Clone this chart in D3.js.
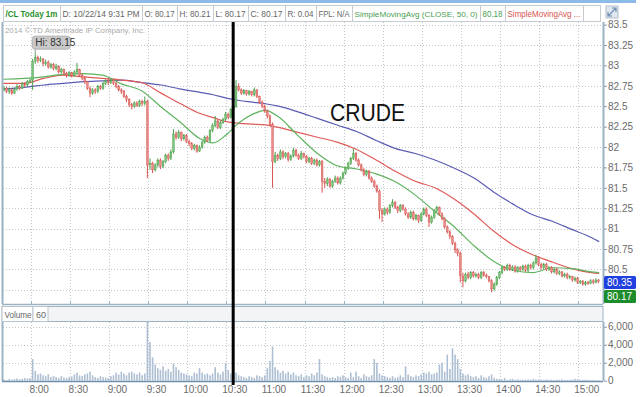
<!DOCTYPE html>
<html>
<head>
<meta charset="utf-8">
<script src="https://cdn.jsdelivr.net/npm/d3@7"></script>
<style>
  body { margin: 0; background: #fff; }
  text { font-family: "Liberation Sans", Arial, sans-serif; }
</style>
</head>
<body>
<script>
let width = 642;
let height = 397;

// 2-minute bars starting 7:39 (minutes after midnight)
let barStart = 459;
let barStep = 2;
let firstOpen = 82.70;

let closes = [
  82.72, 82.68, 82.70, 82.66, 82.71, 82.74, 82.72, 82.78, 82.76, 82.80,
  82.82, 83.05, 83.10, 83.06, 83.08, 83.02, 83.04, 82.98, 83.01, 82.96,
  82.99, 82.92, 82.95, 82.90, 82.88, 82.91, 82.87, 82.92, 82.95, 82.88,
  82.84, 82.80, 82.72, 82.66, 82.70, 82.68, 82.74, 82.72, 82.78, 82.81,
  82.79, 82.82, 82.78, 82.74, 82.70, 82.68, 82.62, 82.58, 82.52, 82.50,
  82.54, 82.51, 82.56, 82.53, 82.56, 81.78, 81.80, 81.72, 81.78, 81.84,
  81.76, 81.82, 81.90, 81.86, 81.94, 82.16, 82.12, 82.18, 82.10, 82.14,
  82.07, 82.04, 81.98, 82.02, 81.95, 82.00, 82.06, 82.12, 82.08, 82.20,
  82.26, 82.32, 82.24, 82.30, 82.34, 82.40, 82.36, 82.46, 82.50, 82.74,
  82.70, 82.66, 82.69, 82.65, 82.68, 82.64, 82.70, 82.62, 82.55, 82.50,
  82.44, 82.38, 82.28, 81.82, 81.90, 81.86, 81.94, 81.88, 81.92, 81.85,
  81.89, 81.96, 81.90, 81.86, 81.92, 81.88, 81.82, 81.86, 81.80, 81.84,
  81.78, 81.82, 81.58, 81.55, 81.60, 81.52, 81.58, 81.62, 81.56, 81.62,
  81.68, 81.74, 81.80, 81.86, 81.92, 81.84, 81.78, 81.72, 81.66, 81.70,
  81.62, 81.58, 81.52, 81.46, 81.22, 81.18, 81.24, 81.20, 81.28, 81.32,
  81.26, 81.22, 81.28, 81.24, 81.18, 81.14, 81.20, 81.12, 81.16, 81.10,
  81.18, 81.24, 81.16, 81.08, 81.14, 81.22, 81.26, 81.18, 81.12, 81.02,
  80.96, 80.90, 80.82, 80.74, 80.70, 80.42, 80.36, 80.44, 80.40, 80.46,
  80.42, 80.44, 80.40, 80.46, 80.43, 80.41, 80.36, 80.26, 80.32, 80.40,
  80.46, 80.52, 80.50, 80.55, 80.50, 80.53, 80.48, 80.52, 80.50, 80.54,
  80.49, 80.55, 80.52, 80.58, 80.64, 80.56, 80.52, 80.56, 80.50, 80.52,
  80.47, 80.50, 80.45, 80.47, 80.42, 80.44, 80.40, 80.41, 80.37, 80.39,
  80.34, 80.35, 80.32, 80.34, 80.33, 80.36, 80.34, 80.37, 80.35
];
let highs = [
  82.75, 82.74, 82.73, 82.72, 82.73, 82.77, 82.76, 82.80, 82.80, 82.82,
  82.84, 83.08, 83.15, 83.12, 83.11, 83.09, 83.07, 83.06, 83.03, 83.03,
  83.02, 83.00, 82.97, 82.96, 82.92, 82.93, 82.92, 82.94, 83.03, 82.96,
  82.90, 82.86, 82.81, 82.74, 82.72, 82.72, 82.76, 82.76, 82.80, 82.83,
  82.84, 82.84, 82.84, 82.80, 82.76, 82.72, 82.70, 82.64, 82.60, 82.54,
  82.56, 82.56, 82.58, 82.58, 82.62, 82.58, 81.86, 81.82, 81.80, 81.86,
  81.86, 81.84, 81.92, 81.92, 81.97, 82.22, 82.19, 82.21, 82.19, 82.16,
  82.16, 82.09, 82.06, 82.04, 82.03, 82.02, 82.08, 82.14, 82.14, 82.22,
  82.29, 82.38, 82.33, 82.32, 82.36, 82.43, 82.42, 82.48, 82.54, 82.82,
  82.78, 82.72, 82.71, 82.70, 82.70, 82.69, 82.73, 82.71, 82.63, 82.57,
  82.52, 82.46, 82.40, 82.30, 81.94, 81.92, 81.97, 81.96, 81.94, 81.94,
  81.91, 81.99, 81.98, 81.92, 81.95, 81.93, 81.90, 81.88, 81.88, 81.86,
  81.86, 81.84, 81.84, 81.62, 81.63, 81.62, 81.60, 81.65, 81.64, 81.64,
  81.70, 81.76, 81.82, 81.88, 81.98, 81.94, 81.86, 81.80, 81.74, 81.72,
  81.72, 81.64, 81.60, 81.54, 81.48, 81.25, 81.26, 81.26, 81.30, 81.36,
  81.34, 81.28, 81.30, 81.30, 81.26, 81.20, 81.22, 81.22, 81.18, 81.17,
  81.20, 81.26, 81.26, 81.18, 81.16, 81.24, 81.28, 81.27, 81.20, 81.14,
  81.04, 80.98, 80.92, 80.84, 80.76, 80.72, 80.46, 80.46, 80.47, 80.48,
  80.48, 80.46, 80.46, 80.48, 80.48, 80.45, 80.42, 80.38, 80.34, 80.42,
  80.48, 80.54, 80.54, 80.57, 80.57, 80.55, 80.55, 80.54, 80.54, 80.56,
  80.56, 80.57, 80.57, 80.60, 80.68, 80.66, 80.58, 80.58, 80.58, 80.54,
  80.54, 80.52, 80.52, 80.49, 80.48, 80.46, 80.46, 80.43, 80.42, 80.41,
  80.41, 80.37, 80.37, 80.36, 80.36, 80.38, 80.38, 80.39, 80.38
];
let lows = [
  82.68, 82.66, 82.65, 82.64, 82.65, 82.69, 82.70, 82.71, 82.73, 82.74,
  82.78, 82.70, 83.02, 83.03, 83.04, 82.99, 83.00, 82.96, 82.96, 82.94,
  82.94, 82.90, 82.90, 82.88, 82.85, 82.86, 82.85, 82.86, 82.90, 82.86,
  82.82, 82.77, 82.70, 82.61, 82.64, 82.65, 82.66, 82.70, 82.70, 82.76,
  82.76, 82.77, 82.76, 82.72, 82.68, 82.65, 82.60, 82.55, 82.49, 82.46,
  82.48, 82.49, 82.49, 82.50, 82.51, 81.62, 81.72, 81.68, 81.70, 81.75,
  81.73, 81.74, 81.80, 81.83, 81.84, 81.92, 82.09, 82.10, 82.07, 82.08,
  82.05, 82.01, 81.96, 81.96, 81.93, 81.94, 81.98, 82.04, 82.06, 82.06,
  82.18, 82.24, 82.22, 82.22, 82.28, 82.32, 82.34, 82.35, 82.44, 82.48,
  82.68, 82.64, 82.64, 82.63, 82.63, 82.62, 82.62, 82.60, 82.53, 82.48,
  82.42, 82.35, 82.25, 81.50, 81.80, 81.83, 81.84, 81.85, 81.86, 81.82,
  81.83, 81.87, 81.88, 81.84, 81.84, 81.86, 81.80, 81.80, 81.78, 81.78,
  81.76, 81.76, 81.44, 81.50, 81.52, 81.50, 81.50, 81.56, 81.54, 81.54,
  81.60, 81.66, 81.72, 81.78, 81.84, 81.82, 81.76, 81.70, 81.64, 81.64,
  81.60, 81.56, 81.50, 81.44, 81.12, 81.08, 81.16, 81.17, 81.18, 81.26,
  81.24, 81.19, 81.20, 81.22, 81.16, 81.12, 81.12, 81.10, 81.10, 81.07,
  81.08, 81.16, 81.14, 81.02, 81.06, 81.12, 81.20, 81.16, 81.10, 81.00,
  80.94, 80.87, 80.80, 80.70, 80.66, 80.34, 80.28, 80.34, 80.38, 80.38,
  80.40, 80.40, 80.38, 80.38, 80.41, 80.39, 80.34, 80.22, 80.24, 80.30,
  80.38, 80.44, 80.48, 80.48, 80.48, 80.48, 80.46, 80.46, 80.48, 80.48,
  80.47, 80.47, 80.50, 80.50, 80.56, 80.54, 80.50, 80.50, 80.48, 80.48,
  80.45, 80.45, 80.43, 80.43, 80.40, 80.40, 80.38, 80.38, 80.35, 80.35,
  80.32, 80.32, 80.30, 80.30, 80.31, 80.32, 80.32, 80.33, 80.33
];
let volumes = [
  150, 100, 200, 120, 180, 250, 150, 200, 300, 250,
  300, 2400, 1100, 700, 800, 600, 500, 700, 400, 500,
  400, 300, 500, 350, 300, 400, 450, 700, 900, 600,
  500, 700, 800, 1000, 600, 400, 300, 500, 400, 350,
  300, 500, 600, 900, 700, 1000, 800, 600, 900, 1000,
  800, 700, 900, 600, 800, 6600, 4300, 2600, 1800, 1400,
  1200, 1600, 1100, 1300, 1000, 1900, 1500, 1200, 900, 800,
  700, 600, 500, 900, 800, 1400, 900, 700, 800, 600,
  800, 1500, 900, 700, 1000, 2000, 1200, 800, 1100, 900,
  600, 500, 400, 300, 500, 400, 300, 600, 500, 400,
  600, 1400, 2200, 3800, 1500, 1200, 900, 1100, 800, 1000,
  700, 900, 600, 500, 700, 400, 600, 500, 800, 600,
  900, 2400, 700, 500, 400, 300, 400, 300, 500, 400,
  600, 400, 300, 900, 400, 1000, 500, 300, 700, 500,
  400, 600, 2400, 2000, 800, 600, 500, 400, 300, 500,
  300, 400, 600, 400, 1600, 700, 500, 400, 600, 500,
  700, 900, 800, 1000, 700, 800, 900, 1800, 2000, 1000,
  2900, 1300, 3600, 2900, 2400, 1300, 800, 600, 700, 500,
  400, 500, 300, 600, 400, 300, 500, 700, 300, 200,
  200, 150, 300, 100, 150, 200, 100, 150, 100, 120,
  100, 150, 100, 200, 150, 100, 120, 100, 150, 100,
  100, 80, 120, 100, 150, 100, 80, 100, 120, 200,
  150, 100, 80, 120, 100, 80, 100, 60, 80
];

// moving averages
let maTimes = [459, 475, 490, 505, 520, 535, 550, 565, 580, 595, 610, 620, 630, 640, 650, 660, 670,
  685, 700, 715, 730, 745, 760, 775, 790, 805, 820, 835, 850, 865, 880, 895, 910, 916];
let sma50 = [82.83, 82.84, 82.86, 82.89, 82.90, 82.88, 82.77, 82.69, 82.49, 82.30, 82.10, 82.05, 82.15,
  82.30, 82.40, 82.45, 82.37, 82.14, 81.92, 81.77, 81.73, 81.67, 81.57, 81.41, 81.21, 81.02, 80.79,
  80.60, 80.49, 80.46, 80.52, 80.51, 80.47, 80.46];
let smaRed = [82.78, 82.78, 82.84, 82.88, 82.86, 82.84, 82.82, 82.79, 82.66, 82.53, 82.41, 82.36, 82.31,
  82.29, 82.28, 82.27, 82.24, 82.18, 82.12, 82.06, 81.97, 81.84, 81.70, 81.58, 81.50, 81.36, 81.18,
  80.97, 80.80, 80.68, 80.59, 80.51, 80.46, 80.45];
let smaBlue = [82.71, 82.73, 82.76, 82.78, 82.80, 82.81, 82.82, 82.79, 82.76, 82.71, 82.67, 82.64, 82.60,
  82.57, 82.55, 82.53, 82.50, 82.43, 82.35, 82.27, 82.19, 82.08, 81.98, 81.92, 81.84, 81.74, 81.62,
  81.45, 81.30, 81.17, 81.09, 80.99, 80.89, 80.84];

let priceGrid = [83.5, 83.25, 83, 82.75, 82.5, 82.25, 82, 81.75, 81.5, 81.25, 81, 80.75, 80.5, 80.25];
let priceLabels = [83.5, 83.25, 83, 82.75, 82.5, 82.25, 82, 81.75, 81.5, 81.25, 81, 80.75, 80.5];
let volumeTicks = [0, 2000, 4000, 6000];
let timeTicks = [480, 510, 540, 570, 600, 630, 660, 690, 720, 750, 780, 810, 840, 870, 900];
let timeLabels = ["8:00", "8:30", "9:00", "9:30", "10:00", "10:30", "11:00", "11:30", "12:00",
  "12:30", "13:00", "13:30", "14:00", "14:30", "15:00"];
let markTime = 635.3;
let lastPrice = 80.35;
let quotePrice = 80.17;

let bars = closes.map((c, i) => ({
  t: barStart + i * barStep,
  open: i === 0 ? firstOpen : closes[i - 1],
  high: highs[i],
  low: lows[i],
  close: c,
  volume: volumes[i]
}));

let left = 3, right = 603;
let pTop = 22, pBot = 304, vTop = 322, vBot = 381;

let svg = d3.select("body").append("svg")
  .attr("width", width).attr("height", height)
  .style("display", "block");

let x = d3.scaleLinear().domain([480, 900]).range([30.7, 578.3]);
let y = d3.scaleLinear().domain([80.5, 83.25]).range([269.4, 45]);
let yv = d3.scaleLinear().domain([0, 6000]).range([380.7, 326.7]);

let grid = "#c4c8cc";
let frame = "#9cb3c4";

// top strip + header
svg.append("rect").attr("x", 0).attr("y", 0).attr("width", 636).attr("height", 3).attr("fill", "#8dbbe8");

let header = [
  {x0: 3, x1: 60, text: "/CL Today 1m", color: "#1f8f2a", bold: true},
  {x0: 60, x1: 142, text: "D: 10/22/14 9:31 PM", color: "#666"},
  {x0: 142, x1: 177, text: "O: 80.17", color: "#666"},
  {x0: 177, x1: 213, text: "H: 80.21", color: "#666"},
  {x0: 213, x1: 248, text: "L: 80.17", color: "#666"},
  {x0: 248, x1: 285, text: "C: 80.17", color: "#666"},
  {x0: 285, x1: 316, text: "R: 0.04", color: "#666"},
  {x0: 316, x1: 352, text: "FPL: N/A", color: "#666"},
  {x0: 352, x1: 480, text: "SimpleMovingAvg (CLOSE, 50, 0)", color: "#4aa050", size: 8},
  {x0: 480, x1: 505, text: "80.18", color: "#4aa050"},
  {x0: 505, x1: 583, text: "SimpleMovingAvg ...", color: "#d9534f"},
  {x0: 583, x1: 600, text: "", color: "#666"}
];
let hg = svg.append("g");
hg.selectAll("rect").data(header).enter().append("rect")
  .attr("x", d => d.x0 + 0.5).attr("y", 5.5)
  .attr("width", d => d.x1 - d.x0).attr("height", 16)
  .attr("fill", "#fff").attr("stroke", "#c6cbd0");
hg.selectAll("text").data(header.filter(d => d.text)).enter().append("text")
  .attr("x", d => d.x0 + 2.5).attr("y", 17)
  .attr("font-size", d => d.size || 9)
  .attr("font-weight", d => d.bold ? "bold" : "normal")
  .attr("fill", d => d.color)
  .attr("textLength", d => d.x1 - d.x0 - 5)
  .attr("lengthAdjust", "spacingAndGlyphs")
  .text(d => d.text);
// small icon top right
svg.append("rect").attr("x", 606).attr("y", 6).attr("width", 12).attr("height", 12)
  .attr("fill", "#dfe6ee").attr("stroke", "#b5c0cc");
svg.append("path").attr("d", "M608,16 L616,8 M612,8 L616,8 L616,12 M608,12 L608,16 L612,16")
  .attr("stroke", "#6e8fb3").attr("fill", "none").attr("stroke-width", 1.2);

// price panel grid
let pg = svg.append("g");
pg.selectAll("line.h").data(priceGrid).enter().append("line")
  .attr("x1", left).attr("x2", right)
  .attr("y1", d => Math.round(y(d)) + 0.5).attr("y2", d => Math.round(y(d)) + 0.5)
  .attr("stroke", grid).attr("stroke-dasharray", "1,2");
pg.selectAll("line.v").data(timeTicks).enter().append("line")
  .attr("x1", d => Math.round(x(d)) + 0.5).attr("x2", d => Math.round(x(d)) + 0.5)
  .attr("y1", pTop).attr("y2", pBot)
  .attr("stroke", grid).attr("stroke-dasharray", "1,2");

svg.append("text").attr("x", 5).attr("y", 33).attr("font-size", 8).attr("fill", "#aaa")
  .attr("textLength", 140).attr("lengthAdjust", "spacingAndGlyphs")
  .text("2014 \u00a9 TD Ameritrade IP Company, Inc.");

svg.append("clipPath").attr("id", "pclip").append("rect")
  .attr("x", left).attr("y", pTop).attr("width", right - left).attr("height", pBot - pTop);
let plot = svg.append("g").attr("clip-path", "url(#pclip)");

let maLine = d3.line().x((d, i) => x(maTimes[i])).y(d => y(d)).curve(d3.curveMonotoneX);
[[smaBlue, "#5a5cb4"], [smaRed, "#e05a58"], [sma50, "#5fb35f"]].forEach(([vals, col]) => {
  plot.append("path").datum(vals).attr("d", maLine)
    .attr("fill", "none").attr("stroke", col).attr("stroke-width", 1.2);
});

let up = "#4a9e4a", down = "#d9534f";
let cx = d => x(d.t + 0.5);
plot.selectAll("line.wick").data(bars).enter().append("line")
  .attr("x1", cx).attr("x2", cx)
  .attr("y1", d => y(d.high)).attr("y2", d => y(d.low))
  .attr("stroke", d => d.close >= d.open ? up : down).attr("stroke-width", 1);
plot.selectAll("rect.body").data(bars).enter().append("rect")
  .attr("x", d => cx(d) - 0.9).attr("width", 1.8)
  .attr("y", d => y(Math.max(d.open, d.close)))
  .attr("height", d => Math.max(1, Math.abs(y(d.open) - y(d.close))))
  .attr("fill", d => d.close >= d.open ? "#7cc47c" : "#e58a87")
  .attr("stroke", d => d.close >= d.open ? up : down).attr("stroke-width", 0.4);

// Hi bubble
let hiBar = bars.reduce((a, b) => b.high > a.high ? b : a);
let hx = cx(hiBar), hy = y(hiBar.high);
svg.append("line").attr("x1", hx).attr("x2", hx).attr("y1", hy - 4).attr("y2", hy).attr("stroke", "#999");
svg.append("rect").attr("x", hx - 3).attr("y", hy - 17).attr("width", 38).attr("height", 13).attr("rx", 3)
  .attr("fill", "#c9c9c9").attr("stroke", "#b0b0b0");
svg.append("text").attr("x", hx).attr("y", hy - 7).attr("font-size", 10).attr("fill", "#333")
  .text("Hi: " + d3.format(".2f")(hiBar.high));

// panel frame
svg.append("line").attr("x1", left - 0.5).attr("x2", left - 0.5).attr("y1", pTop).attr("y2", pBot)
  .attr("stroke", frame).attr("stroke-width", 2);
svg.append("line").attr("x1", left - 1).attr("x2", right).attr("y1", pBot + 0.5).attr("y2", pBot + 0.5)
  .attr("stroke", frame).attr("stroke-width", 1.5);
svg.append("line").attr("x1", right + 0.5).attr("x2", right + 0.5).attr("y1", pTop).attr("y2", pBot)
  .attr("stroke", frame).attr("stroke-width", 2);
svg.selectAll("line.bt").data(timeTicks).enter().append("line")
  .attr("x1", d => Math.round(x(d)) + 0.5).attr("x2", d => Math.round(x(d)) + 0.5)
  .attr("y1", pBot - 3).attr("y2", pBot).attr("stroke", frame);

// price axis
let yAxis = svg.append("g").attr("transform", `translate(${right + 1},0)`)
  .call(d3.axisRight(y).tickValues(priceLabels).tickSize(3).tickPadding(1).tickFormat(d3.format("")));
yAxis.select(".domain").remove();
yAxis.selectAll("line").attr("stroke", "#8a9aa8");
yAxis.selectAll("text").attr("font-size", 10).attr("fill", "#6b6b6b")
  .attr("font-family", "'Liberation Sans', Arial, sans-serif");

// price tags
[[lastPrice, "#2140e0", 282.5], [quotePrice, "#1d8c2a", 296.5]].forEach(([p, col, cy]) => {
  svg.append("rect").attr("x", right + 1).attr("y", cy - 6.5).attr("width", 32).attr("height", 13)
    .attr("rx", 1.5).attr("fill", col);
  svg.append("text").attr("x", right + 4).attr("y", cy + 3.5).attr("font-size", 10).attr("fill", "#fff")
    .text(d3.format(".2f")(p));
});

// volume header strip
svg.append("rect").attr("x", left - 1).attr("y", 306.5).attr("width", right - left + 1).attr("height", 15)
  .attr("fill", "#f3f4f5").attr("stroke", frame);
svg.append("rect").attr("x", left - 1).attr("y", 306.5).attr("width", 31).attr("height", 15)
  .attr("fill", "#fff").attr("stroke", "#b9c3cc");
svg.append("rect").attr("x", left + 30).attr("y", 306.5).attr("width", 15).attr("height", 15)
  .attr("fill", "#fff").attr("stroke", "#b9c3cc");
svg.append("text").attr("x", 4.5).attr("y", 317.5).attr("font-size", 9).attr("fill", "#666")
  .attr("textLength", 27).attr("lengthAdjust", "spacingAndGlyphs").text("Volume");
svg.append("text").attr("x", 36).attr("y", 317.5).attr("font-size", 9).attr("fill", "#666").text("60");

// volume grid
let vg = svg.append("g");
vg.selectAll("line.h").data(volumeTicks.filter(d => d > 0)).enter().append("line")
  .attr("x1", left).attr("x2", right)
  .attr("y1", d => Math.round(yv(d)) + 0.5).attr("y2", d => Math.round(yv(d)) + 0.5)
  .attr("stroke", grid).attr("stroke-dasharray", "1,2");
vg.selectAll("line.v").data(timeTicks).enter().append("line")
  .attr("x1", d => Math.round(x(d)) + 0.5).attr("x2", d => Math.round(x(d)) + 0.5)
  .attr("y1", vTop).attr("y2", vBot)
  .attr("stroke", grid).attr("stroke-dasharray", "1,2");

svg.append("g").selectAll("rect").data(bars).enter().append("rect")
  .attr("x", d => cx(d) - 0.8).attr("width", 1.6)
  .attr("y", d => yv(d.volume)).attr("height", d => yv(0) - yv(d.volume))
  .attr("fill", "#aebfd3");

svg.append("line").attr("x1", left - 0.5).attr("x2", left - 0.5).attr("y1", vTop).attr("y2", vBot)
  .attr("stroke", frame).attr("stroke-width", 2);
svg.append("line").attr("x1", left - 1).attr("x2", right).attr("y1", vBot + 0.5).attr("y2", vBot + 0.5)
  .attr("stroke", "#6f8faa").attr("stroke-width", 1.5);
svg.append("line").attr("x1", right + 0.5).attr("x2", right + 0.5).attr("y1", vTop).attr("y2", vBot)
  .attr("stroke", frame).attr("stroke-width", 2);

let vAxis = svg.append("g").attr("transform", `translate(${right + 1},0)`)
  .call(d3.axisRight(yv).tickValues(volumeTicks).tickSize(3).tickPadding(1).tickFormat(d3.format(",")));
vAxis.select(".domain").remove();
vAxis.selectAll("line").attr("stroke", "#8a9aa8");
vAxis.selectAll("text").attr("font-size", 10).attr("fill", "#6b6b6b")
  .attr("font-family", "'Liberation Sans', Arial, sans-serif");

// time axis
let xAxis = svg.append("g").attr("transform", `translate(0,${vBot + 2})`)
  .call(d3.axisBottom(x).tickValues(timeTicks).tickSize(0).tickPadding(3)
    .tickFormat((d, i) => timeLabels[i]));
xAxis.select(".domain").remove();
xAxis.selectAll("text").attr("font-size", 10).attr("fill", "#6b6b6b").attr("dx", 8)
  .attr("font-family", "'Liberation Sans', Arial, sans-serif");

// annotation: black vertical marker and label
svg.append("line").attr("x1", x(markTime)).attr("x2", x(markTime))
  .attr("y1", pTop).attr("y2", 385).attr("stroke", "#000").attr("stroke-width", 3);
svg.append("text").attr("x", 330).attr("y", 121).attr("font-size", 24)
  .attr("font-family", "Lato, 'Open Sans', sans-serif").attr("fill", "#111")
  .attr("textLength", 75).attr("lengthAdjust", "spacingAndGlyphs")
  .text("CRUDE");
</script>
</body>
</html>
